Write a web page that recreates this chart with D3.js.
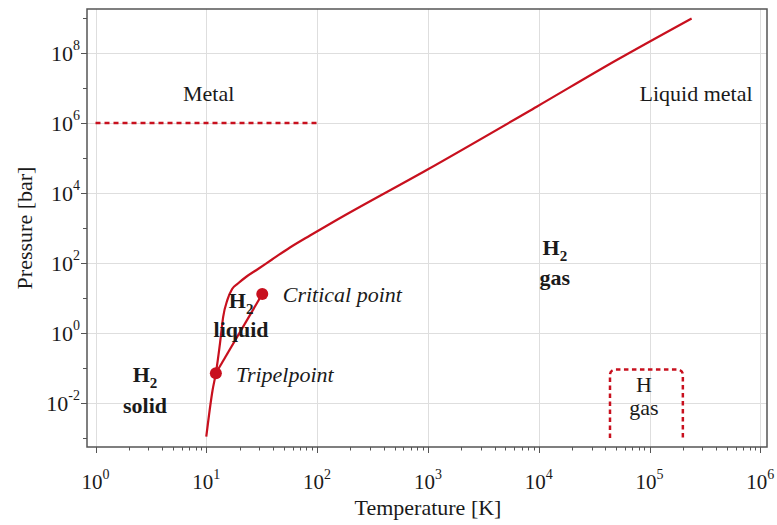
<!DOCTYPE html>
<html>
<head>
<meta charset="utf-8">
<script src="https://cdn.jsdelivr.net/npm/d3@7"></script>
<style>
  html, body { margin: 0; padding: 0; background: #fff; }
  svg { display: block; }
  text { font-family: "Liberation Serif", "Times New Roman", serif; fill: #1a1a1a; }
</style>
</head>
<body>
<svg id="chart" width="777" height="525"></svg>
<script>
// ---------- data ----------
// phase boundary (melting curve -> kink -> high-pressure line)
const boundaryT = [10, 11.4, 12.2, 13.3, 14.2, 15.5, 17.1, 19.3, 22.8, 29.3, 39.2, 56.9, 86.3, 150, 975, 9590, 50600, 240000];
const boundaryP = [1.1e-3, 0.0235, 0.071, 0.51, 2.9, 8.8, 18.1, 26, 39.8, 67.4, 126, 277, 611, 1690, 45400, 2.92e6, 6.3e7, 9.7e8];
// vapour curve: triple point -> critical point
const vapourT = [12.2, 32];
const vapourP = [0.071, 13];
// special points
const pointNames = ["Tripelpoint", "Critical point"];
const pointT = [12.2, 32];
const pointP = [0.071, 13];
// metal boundary (dashed)
const metalT = [1, 100];
const metalP = [1e6, 1e6];
// H gas region (dotted box)
const hGasT = [44000, 44000, 200000, 200000];
const hGasP = [1e-3, 0.09, 0.09, 1e-3];
// ticks
const xMajorExp = [0, 1, 2, 3, 4, 5, 6];
const yMajorExp = [-2, 0, 2, 4, 6, 8];
const yMinorExp = [-3, -1, 1, 3, 5, 7, 9];
const xMinorMult = [2, 3, 4, 5, 6, 7, 8, 9];

// ---------- layout ----------
const frame = { left: 87, right: 767, top: 9, bottom: 447 };
const red = "#c8101e";

const svg = d3.select("#chart");
const x = d3.scaleLog().domain([1, 1e6]).range([95.5, 760.3]);
const y = d3.scaleLog().domain([1e-2, 1e8]).range([403, 53]);

// clip
svg.append("defs").append("clipPath").attr("id", "clip")
  .append("rect").attr("x", frame.left).attr("y", frame.top)
  .attr("width", frame.right - frame.left).attr("height", frame.bottom - frame.top);

// grid
const grid = svg.append("g").attr("stroke", "#dedede").attr("stroke-width", 1);
xMajorExp.forEach(e => {
  const px = Math.round(x(Math.pow(10, e))) + 0.5;
  grid.append("line").attr("x1", px).attr("x2", px).attr("y1", frame.top).attr("y2", frame.bottom);
});
yMajorExp.forEach(e => {
  const py = Math.round(y(Math.pow(10, e))) + 0.5;
  grid.append("line").attr("x1", frame.left).attr("x2", frame.right).attr("y1", py).attr("y2", py);
});

// ticks (outside)
const ticks = svg.append("g").attr("stroke", "#555").attr("stroke-width", 1);
xMajorExp.forEach(e => {
  const px = Math.round(x(Math.pow(10, e))) + 0.5;
  ticks.append("line").attr("x1", px).attr("x2", px).attr("y1", frame.bottom).attr("y2", frame.bottom + 6);
});
xMajorExp.slice(0, -1).forEach(e => {
  xMinorMult.forEach(m => {
    const px = Math.round(x(m * Math.pow(10, e))) + 0.5;
    ticks.append("line").attr("x1", px).attr("x2", px).attr("y1", frame.bottom).attr("y2", frame.bottom + 3.5);
  });
});
yMajorExp.forEach(e => {
  const py = Math.round(y(Math.pow(10, e))) + 0.5;
  ticks.append("line").attr("x1", frame.left - 6).attr("x2", frame.left).attr("y1", py).attr("y2", py);
});
yMinorExp.forEach(e => {
  const py = Math.round(y(Math.pow(10, e))) + 0.5;
  ticks.append("line").attr("x1", frame.left - 4).attr("x2", frame.left).attr("y1", py).attr("y2", py);
});

// tick labels
xMajorExp.forEach(e => {
  const t = svg.append("text").attr("x", x(Math.pow(10, e))).attr("y", 489)
    .attr("text-anchor", "middle").attr("font-size", 21);
  t.append("tspan").text("10");
  t.append("tspan").attr("font-size", 14).attr("dy", -10).text(String(e));
});
yMajorExp.forEach(e => {
  const t = svg.append("text").attr("x", 80).attr("y", y(Math.pow(10, e)) + 8)
    .attr("text-anchor", "end").attr("font-size", 22);
  t.append("tspan").text("10");
  t.append("tspan").attr("font-size", 14).attr("dy", -11).text(String(e));
});

// axis titles
svg.append("text").attr("x", 428).attr("y", 515).attr("text-anchor", "middle")
  .attr("font-size", 22).text("Temperature [K]");
svg.append("text").attr("transform", "translate(32,228) rotate(-90)")
  .attr("text-anchor", "middle").attr("font-size", 22).text("Pressure [bar]");

// marks
const plot = svg.append("g").attr("clip-path", "url(#clip)");
const line = d3.line().x(d => x(d[0])).y(d => y(d[1]));

plot.append("path")
  .datum(metalT.map((t, i) => [t, metalP[i]]))
  .attr("d", line).attr("fill", "none").attr("stroke", red)
  .attr("stroke-width", 2.5).attr("stroke-dasharray", "5,4");

// H gas box with rounded top corners
const boxPts = hGasT.map((t, i) => [x(t), y(hGasP[i])]);
const bp = d3.path();
bp.moveTo(boxPts[0][0], boxPts[0][1]);
bp.arcTo(boxPts[1][0], boxPts[1][1], boxPts[2][0], boxPts[2][1], 5);
bp.arcTo(boxPts[2][0], boxPts[2][1], boxPts[3][0], boxPts[3][1], 5);
bp.lineTo(boxPts[3][0], boxPts[3][1]);
plot.append("path").attr("d", bp.toString()).attr("fill", "none").attr("stroke", red)
  .attr("stroke-width", 2.5).attr("stroke-dasharray", "4.5,3.5");

plot.append("path")
  .datum(vapourT.map((t, i) => [t, vapourP[i]]))
  .attr("d", line).attr("fill", "none").attr("stroke", red).attr("stroke-width", 2.2);

plot.append("path")
  .datum(boundaryT.map((t, i) => [t, boundaryP[i]]))
  .attr("d", line.curve(d3.curveMonotoneX)).attr("fill", "none").attr("stroke", red)
  .attr("stroke-width", 2.2).attr("stroke-linejoin", "round");

plot.selectAll("circle.pt").data(pointT).enter().append("circle")
  .attr("cx", d => x(d)).attr("cy", (d, i) => y(pointP[i])).attr("r", 6).attr("fill", red);

// frame
svg.append("rect").attr("x", frame.left).attr("y", frame.top)
  .attr("width", frame.right - frame.left).attr("height", frame.bottom - frame.top)
  .attr("fill", "none").attr("stroke", "#555").attr("stroke-width", 1.5);

// ---------- labels ----------
function plain(txt, T, P, anchor, style) {
  return svg.append("text").attr("x", x(T)).attr("y", y(P)).attr("text-anchor", anchor)
    .attr("font-size", 22).attr("font-style", style || "normal").text(txt);
}
function h2(T, P) {
  const t = svg.append("text").attr("x", x(T)).attr("y", y(P)).attr("text-anchor", "middle")
    .attr("font-size", 22).attr("font-weight", "bold");
  t.append("tspan").text("H");
  t.append("tspan").attr("font-size", 15).attr("dy", 6).text("2");
}
function bold(txt, T, P) {
  svg.append("text").attr("x", x(T)).attr("y", y(P)).attr("text-anchor", "middle")
    .attr("font-size", 22).attr("font-weight", "bold").text(txt);
}
plain("Metal", 10.5, Math.pow(10, 6.63), "middle");
plain("Liquid metal", 2.63e5, Math.pow(10, 6.63), "middle");
h2(14000, Math.pow(10, 2.229));
bold("gas", 14000, Math.pow(10, 1.371));
h2(20.6, Math.pow(10, 0.714));
bold("liquid", 20.6, Math.pow(10, -0.114));
h2(2.8, Math.pow(10, -1.4));
bold("solid", 2.8, Math.pow(10, -2.286));
plain(pointNames[1], 49, Math.pow(10, 0.886), "start", "italic");
plain(pointNames[0], 18.5, Math.pow(10, -1.4), "start", "italic");
plain("H", 89000, Math.pow(10, -1.686), "middle");
plain("gas", 89000, Math.pow(10, -2.343), "middle");
</script>
</body>
</html>
